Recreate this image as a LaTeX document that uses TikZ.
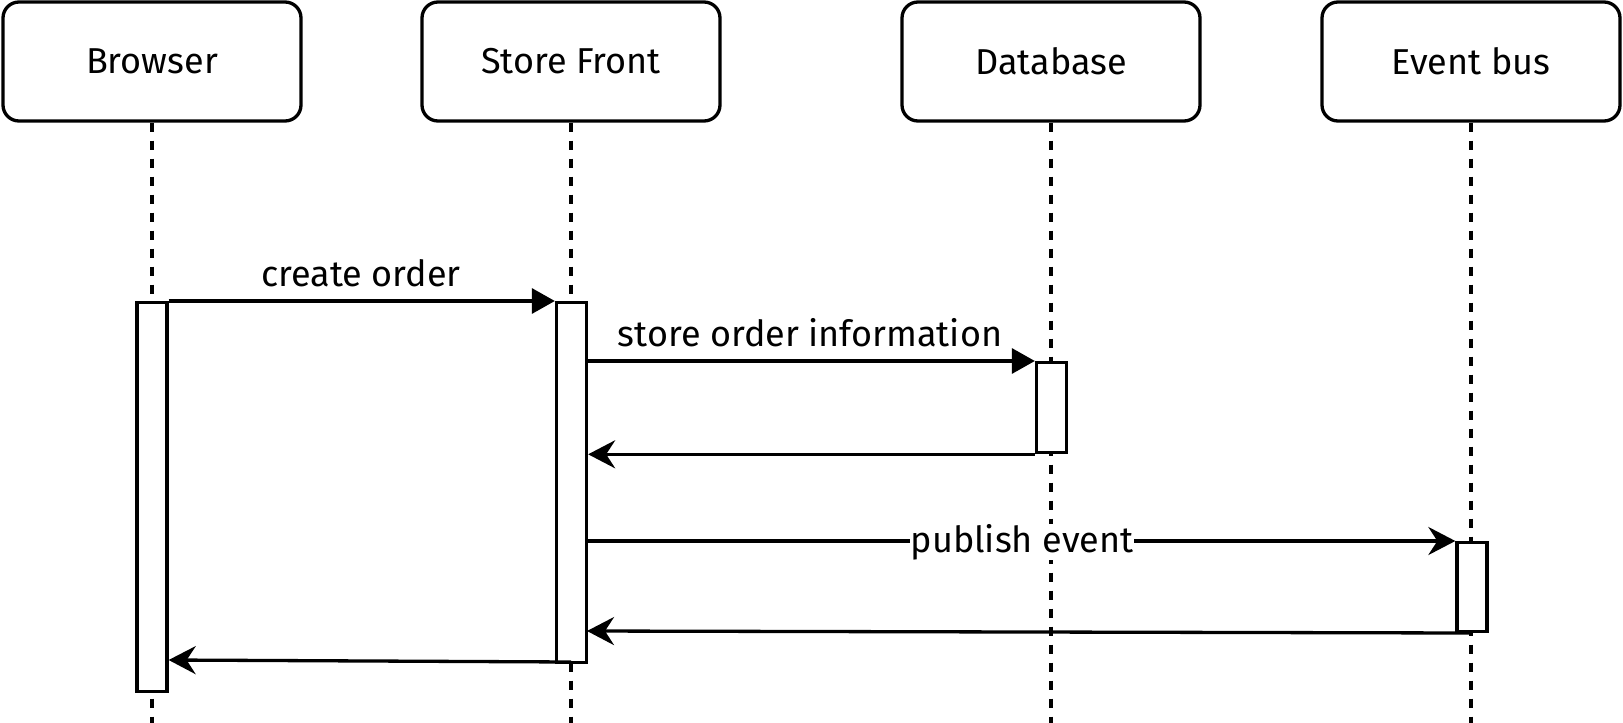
\documentclass[tikz,border=0pt]{standalone}
\usepackage{fontspec}
\setmainfont{Fira Sans}
\usetikzlibrary{arrows.meta}
\begin{document}
\begin{tikzpicture}[x=1pt,y=-1pt,
  every node/.style={font=\fontsize{36}{43}\selectfont},
  head/.style={draw,line width=3.3pt,rounded corners=16pt,minimum width=298pt,minimum height=119pt,inner sep=0pt,fill=white},
  act/.style={draw,line width=3.3pt,fill=white,minimum width=30pt,inner sep=0pt,anchor=north},
  life/.style={line width=3.3pt,dash pattern=on 9pt off 9pt},
  call/.style={line width=3.3pt,-{Triangle[length=23pt,width=25pt]}},
  ret/.style={line width=3.3pt,-{Stealth[length=27pt,width=28pt,inset=9pt]}},
  lbl/.style={inner sep=0.5pt}]
\useasboundingbox (0,0) rectangle (1623,723);
\node[head] (hb) at (152,61.5) {Browser};
\node[head] (hs) at (571,61.5) {Store Front};
\node[head] (hd) at (1051,61.5) {Database};
\node[head] (he) at (1471,61.5) {Event bus};
\coordinate (lb) at (152,723);
\coordinate (ls) at (571,723);
\coordinate (ld) at (1051,723);
\coordinate (le) at (1471,723);
\draw[life] (hb.south) -- (lb);
\draw[life] (hs.south) -- (ls);
\draw[life] (hd.south) -- (ld);
\draw[life] (he.south) -- (le);
\node[act,minimum height=389pt] (ab) at (152,301) {};
\node[act,minimum height=360pt] (as) at (571.5,301) {};
\node[act,minimum height=90pt] (ad) at (1051.5,361) {};
\node[act,minimum height=89pt] (ae) at (1472,541) {};
\draw[call] (ab.north east) -- (as.north west);
\node[lbl] (t1) at (361,273) {create order};
\draw[call] (as.east |- ad.north west) -- (ad.north west);
\node[lbl] (t2) at (810,333) {store order information};
\draw[ret] (ad.south west) -- (as.east |- ad.south west);
\draw[ret] (as.east |- ae.north west) -- (ae.north west);
\node[lbl,fill=white] (t3) at (1022,542) {publish event};
\coordinate (e1) at (1471,633);
\draw[ret] (e1) -- (587,631);
\coordinate (s1) at (571,662);
\draw[ret] (s1) -- (ab.east |- 0,660);
\end{tikzpicture}
\end{document}
